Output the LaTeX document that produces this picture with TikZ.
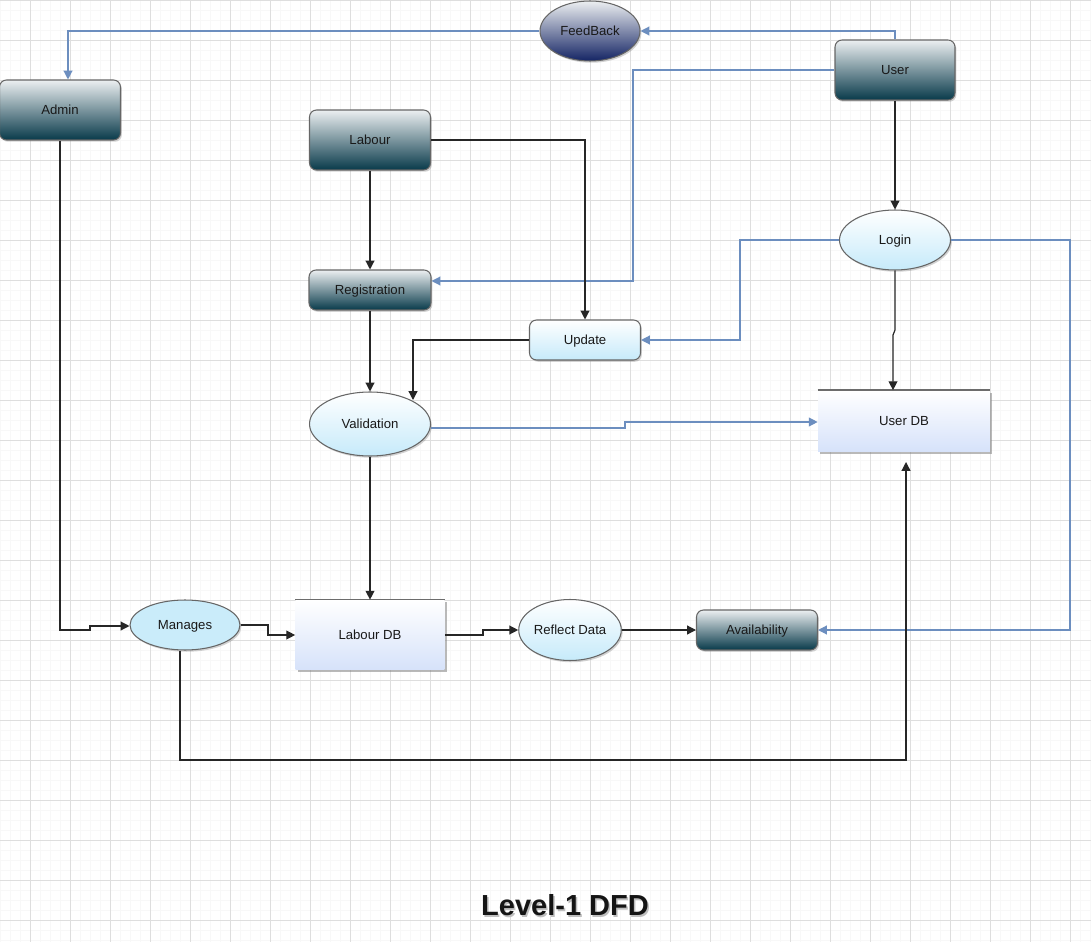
\documentclass[tikz,border=0pt]{standalone}
\usepackage{fontspec}
\setmainfont{Liberation Sans}
\usetikzlibrary{arrows.meta,shapes.geometric,shadows,calc}
\definecolor{gridmin}{RGB}{248,248,248}
\definecolor{gridmaj}{RGB}{222,222,222}
\definecolor{bluel}{RGB}{108,142,191}
\definecolor{darktop}{RGB}{236,239,241}
\definecolor{darkbot}{RGB}{8,58,74}
\definecolor{navybot}{RGB}{20,36,100}
\definecolor{lightbot}{RGB}{198,234,250}
\definecolor{manfill}{RGB}{202,236,250}
\definecolor{dbbot}{RGB}{214,226,250}
\definecolor{txt}{RGB}{25,25,25}
\tikzset{
  lbl/.style={font=\fontsize{7.5}{9}\selectfont, text=txt, text depth=0pt},
  shad/.style={drop shadow={shadow xshift=0.8pt, shadow yshift=-1pt, opacity=0.35, fill=gray}},
  dbshad/.style={drop shadow={shadow xshift=1.2pt, shadow yshift=-1.2pt, opacity=0.55, fill=gray}},
  darkbox/.style={lbl, rectangle, rounded corners=4pt, draw=gray!80!black, line width=0.6pt, top color=darktop, bottom color=darkbot, shad},
  lightbox/.style={lbl, rectangle, rounded corners=4pt, draw=gray!80!black, line width=0.6pt, top color=white, bottom color=lightbot, shad},
  lightell/.style={lbl, ellipse, draw=gray!80!black, line width=0.6pt, top color=white, bottom color=lightbot, inner sep=0pt, shad},
  flatell/.style={lbl, ellipse, draw=gray!80!black, line width=0.6pt, fill=manfill, inner sep=0pt, shad},
  navyell/.style={lbl, ellipse, draw=gray!80!black, line width=0.6pt, top color=darktop, bottom color=navybot, inner sep=0pt, shad},
  dbbox/.style={lbl, rectangle, top color=white, bottom color=dbbot, dbshad},
  blk/.style={draw=black!85, line width=0.7pt, -{Triangle[length=5pt,width=5pt]}},
  blu/.style={draw=bluel, line width=0.7pt, -{Triangle[length=5pt,width=5pt]}},
}
\begin{document}
\begin{tikzpicture}[x=0.02cm,y=-0.02cm]
\useasboundingbox (0,0) rectangle (1091,942);
\fill[white] (0,0) rectangle (1091,942);
% grid
\foreach \x in {0,10,...,1090} \draw[gridmin, line width=0.3pt] (\x,0) -- (\x,942);
\foreach \y in {0,10,...,940} \draw[gridmin, line width=0.3pt] (0,\y) -- (1091,\y);
\foreach \x in {30,70,...,1090} \draw[gridmaj, line width=0.4pt] (\x,0) -- (\x,942);
\foreach \y in {0,40,...,940} \draw[gridmaj, line width=0.4pt] (0,\y) -- (1091,\y);

% nodes
\node[navyell, minimum width=2.0cm, minimum height=1.2cm] (fb) at (590,31) {FeedBack};
\node[darkbox, minimum width=2.4cm, minimum height=1.2cm] (user) at (895,70) {User};
\node[darkbox, minimum width=2.42cm, minimum height=1.2cm] (admin) at (60,110) {Admin};
\node[darkbox, minimum width=2.42cm, minimum height=1.2cm] (labour) at (370,140) {Labour};
\node[darkbox, minimum width=2.44cm, minimum height=0.8cm] (reg) at (370,290) {Registration};
\node[lightell, minimum width=2.22cm, minimum height=1.2cm] (login) at (895,240) {Login};
\node[lightbox, minimum width=2.22cm, minimum height=0.8cm] (upd) at (585,340) {Update};
\node[lightell, minimum width=2.42cm, minimum height=1.28cm] (val) at (370,424) {Validation};
\node[dbbox, minimum width=3.44cm, minimum height=1.22cm] (udb) at (904,421) {User DB};
\draw[gray!85!black, line width=0.8pt] (udb.north west) -- (udb.north east);
\node[dbbox, minimum width=2.98cm, minimum height=1.4cm] (ldb) at (370,635) {Labour DB};
\draw[gray!85!black, line width=0.8pt] (ldb.north west) -- (ldb.north east);
\node[flatell, minimum width=2.2cm, minimum height=1.0cm] (man) at (185,625) {Manages};
\node[lightell, minimum width=2.02cm, minimum height=1.22cm] (refl) at (570,630) {Reflect Data};
\node[darkbox, minimum width=2.42cm, minimum height=0.8cm] (avail) at (757,630) {Availability};
\node[font=\bfseries\fontsize{16.5}{20}\selectfont, text=black!25] (titlesh) at (566.5,907) {Level-1 DFD};
\node[font=\bfseries\fontsize{16.5}{20}\selectfont, text=black!92] (title) at (565,905) {Level-1 DFD};

\coordinate (c1) at (895,31);
\coordinate (c2) at (68,31);
\coordinate (c3) at (633,70);
\coordinate (c4) at (633,281);
\coordinate (c5) at (740,240);
\coordinate (c6) at (740,340);
\coordinate (c7) at (1070,240);
\coordinate (c8) at (1070,630);
\coordinate (c9) at (625,428);
\coordinate (c10) at (625,422);
\coordinate (d1) at (585,140);
\coordinate (d2) at (413,340);
\coordinate (d2e) at (413,400);
\coordinate (d3) at (895,330);
\coordinate (d4) at (893,335);
\coordinate (d5) at (60,630);
\coordinate (d6) at (90,630);
\coordinate (d7) at (90,626);
\coordinate (d8) at (268,625);
\coordinate (d9) at (268,635);
\coordinate (d10) at (483,635);
\coordinate (d11) at (483,630);
\coordinate (d12) at (180,760);
\coordinate (d13) at (906,760);
\coordinate (d14) at (906,462);

% blue connectors
\draw[blu] (user.north) -- (c1) -- (fb.east);
\draw[blu] (fb.west) -- (c2) -- (admin.north -| c2);
\draw[blu] (user.west) -- (c3) -- (c4) -- (reg.east |- c4);
\draw[blu] (login.west) -- (c5) -- (c6) -- (upd.east);
\draw[blu] (login.east) -- (c7) -- (c8) -- (avail.east);
\draw[blu] (val.east |- c9) -- (c9) -- (c10) -- (udb.west |- c10);

% black connectors
\draw[blk] (labour.south) -- (reg.north);
\draw[blk] (labour.east) -- (d1) -- (upd.north);
\draw[blk] (reg.south) -- (val.north);
\draw[blk] (upd.west) -- (d2) -- (d2e);
\draw[blk] (user.south) -- (login.north);
\draw[blk] (login.south) -- (d3) -- (d4) -- (udb.north -| d4);
\draw[blk] (val.south) -- (ldb.north);
\draw[blk] (admin.south -| d5) -- (d5) -- (d6) -- (d7) -- (man.west |- d7);
\draw[blk] (man.east |- d8) -- (d8) -- (d9) -- (ldb.west |- d9);
\draw[blk] (ldb.east |- d10) -- (d10) -- (d11) -- (refl.west);
\draw[blk] (refl.east) -- (avail.west);
\draw[blk] (man.south -| d12) -- (d12) -- (d13) -- (d14);
\end{tikzpicture}
\end{document}
